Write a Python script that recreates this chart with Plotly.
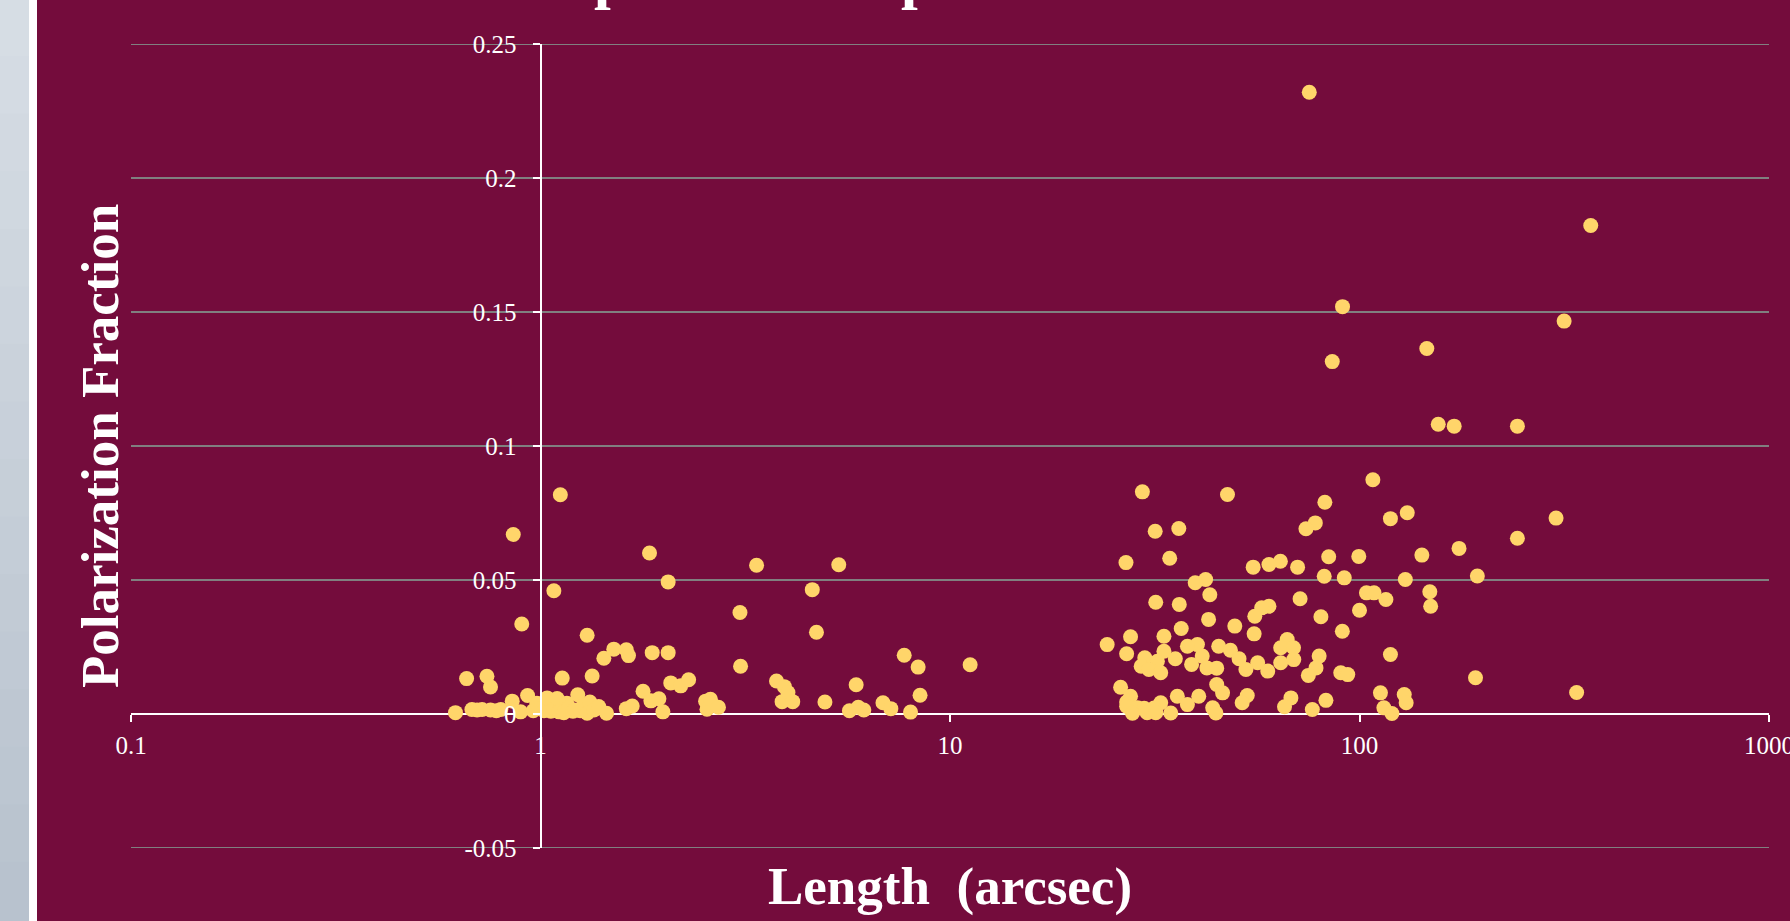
import plotly.graph_objects as go

# ---------------- data ----------------
short_length = [0.62, 0.66, 0.68, 0.70, 0.72, 0.74, 0.755, 0.755, 0.78, 0.80,
                0.853, 0.858, 0.894, 0.90, 0.93, 0.96, 0.98, 1.00, 1.02, 1.038,
                1.06, 1.078, 1.08, 1.098, 1.11, 1.118, 1.13, 1.14, 1.16, 1.17,
                1.20, 1.21, 1.233, 1.25, 1.27, 1.30, 1.30, 1.32, 1.337, 1.35,
                1.387, 1.428, 1.45, 1.51, 1.62, 1.62, 1.64, 1.675, 1.78, 1.846,
                1.86, 1.874, 1.946, 1.99, 2.05, 2.05, 2.08, 2.20, 2.30, 2.53,
                2.55, 2.60, 2.72, 3.07, 3.08, 3.37, 3.77, 3.89, 3.94, 4.02,
                4.13, 4.61, 4.72, 4.95, 5.35, 5.68, 5.90, 5.97, 6.16, 6.86,
                7.17, 7.73, 8.01, 8.36, 8.45, 11.2]
short_pol = [0.0005, 0.0132, 0.0017, 0.0015, 0.0017, 0.0141, 0.0101, 0.0015, 0.0012, 0.0017,
             0.0048, 0.0670, 0.0008, 0.0336, 0.0069, 0.0012, 0.0040, 0.0020, 0.0012, 0.0060,
             0.0010, 0.0460, 0.0020, 0.0058, 0.0008, 0.0818, 0.0134, 0.0005, 0.0040, 0.0022,
             0.0010, 0.0015, 0.0072, 0.0012, 0.0030, 0.0294, 0.0003, 0.0045, 0.0142, 0.0015,
             0.0028, 0.0208, 0.0003, 0.0242, 0.0240, 0.0020, 0.0218, 0.0030, 0.0085, 0.0601,
             0.0049, 0.0229, 0.0057, 0.0008, 0.0493, 0.0229, 0.0116, 0.0105, 0.0128, 0.0048,
             0.0018, 0.0055, 0.0025, 0.0379, 0.0178, 0.0555, 0.0123, 0.0046, 0.0102, 0.0080,
             0.0046, 0.0464, 0.0305, 0.0045, 0.0557, 0.0012, 0.0109, 0.0025, 0.0015, 0.0042,
             0.0020, 0.0219, 0.0007, 0.0175, 0.0070, 0.0184]

long_length = [75.4, 367, 90.9, 316, 146, 85.8, 155.7, 170.3, 243, 107.8,
               29.5, 47.6, 82.3, 130.8, 302, 119, 78, 74, 36.2, 31.7,
               243, 175, 142, 84.1, 99.6, 34.4, 26.9, 64.1, 60.1, 55,
               70.6, 194, 82, 91.8, 129.4, 42.1, 39.7, 104, 108.5, 148.5,
               43.1, 71.6, 116, 31.8, 36.3, 149.2, 60.1, 57.7, 100, 55.5,
               80.5, 42.8, 49.6, 36.7, 90.8, 55.3, 33.3, 27.6, 66.6, 24.2,
               40.2, 38.0, 45.3, 64.2, 69.0, 48.4, 33.3, 27.0, 119, 41.3,
               79.7, 29.9, 35.5, 50.8, 69.1, 32.1, 56.4, 64.2, 38.9, 29.3,
               42.4, 44.8, 78.3, 30.6, 52.8, 59.7, 32.7, 90, 93.6, 75.0,
               192, 44.8, 26.1, 46.3, 112.5, 339, 128.6, 27.6, 35.9, 40.5,
               53.2, 68.0, 82.8, 27.0, 32.7, 51.7, 130, 38.0, 27.0, 65.6,
               28.7, 43.8, 114.7, 29.8, 31.5, 76.7, 34.6, 44.6, 120, 27.9,
               30.3, 31.8]
long_pol = [0.232, 0.1823, 0.152, 0.1466, 0.1364, 0.1315, 0.1081, 0.1074, 0.1074, 0.0874,
            0.0829, 0.0819, 0.079, 0.0751, 0.0731, 0.0729, 0.0713, 0.0691, 0.0692, 0.0682,
            0.0656, 0.0618, 0.0593, 0.0587, 0.0588, 0.0581, 0.0565, 0.057, 0.0558, 0.0548,
            0.0548, 0.0515, 0.0514, 0.0508, 0.0502, 0.0502, 0.049, 0.0452, 0.0452, 0.0456,
            0.0445, 0.043, 0.0427, 0.0417, 0.0409, 0.0402, 0.0402, 0.0396, 0.0387, 0.0365,
            0.0363, 0.0353, 0.0328, 0.0319, 0.0309, 0.0299, 0.029, 0.0288, 0.0278, 0.0259,
            0.0259, 0.0253, 0.0253, 0.0247, 0.0247, 0.0238, 0.0234, 0.0225, 0.0222, 0.0216,
            0.0216, 0.021, 0.0206, 0.0206, 0.0203, 0.0197, 0.0191, 0.0191, 0.0185, 0.0178,
            0.0172, 0.0171, 0.0172, 0.0166, 0.0166, 0.016, 0.0154, 0.0154, 0.0147, 0.0144,
            0.0135, 0.011, 0.010, 0.0079, 0.0079, 0.008, 0.0073, 0.0066, 0.0066, 0.0066,
            0.0069, 0.006, 0.0051, 0.0045, 0.0042, 0.0042, 0.0042, 0.0035, 0.0029, 0.0027,
            0.0023, 0.0023, 0.0023, 0.0021, 0.0022, 0.0017, 0.0004, 0.0004, 0.0002, 0.0003,
            0.0005, 0.0005]

x_tick_vals = [0.1, 1, 10, 100, 1000]
x_tick_text = ["0.1", "1", "10", "100", "1000"]
y_tick_vals = [-0.05, 0, 0.05, 0.1, 0.15, 0.2, 0.25]
y_tick_text = ["-0.05", "0", "0.05", "0.1", "0.15", "0.2", "0.25"]
y_edge_grid = [-0.05, 0.25]

x_title = "Length  (arcsec)"
y_title = "Polarization Fraction"

# ---------------- styling ----------------
BG = "#740C3C"
DOT = "#FFD56A"
GRID = "#808080"
SERIF = "Liberation Serif, Times New Roman, serif"
W, H = 1790, 921
ML, MR, MT, MB = 131, 21, 44, 73
PW = W - ML - MR
PH = H - MT - MB

fig = go.Figure()
for xs, ys in [(short_length, short_pol), (long_length, long_pol)]:
    fig.add_trace(go.Scatter(
        x=xs, y=ys, mode="markers",
        marker=dict(color=DOT, size=15, line=dict(width=0)),
        showlegend=False, hoverinfo="x+y",
    ))

# gridlines at the range edges (plotly omits them)
for gv in y_edge_grid:
    fig.add_shape(type="line", xref="paper", yref="y", x0=0, x1=1, y0=gv, y1=gv,
                  line=dict(color=GRID, width=2), layer="below")

# left decorative strip (light gradient + white band)
top_c = (215, 222, 229)
bot_c = (183, 193, 205)
nb = 16
for i in range(nb):
    t = (i + 0.5) / nb
    c = tuple(int(round(top_c[k] + (bot_c[k] - top_c[k]) * t)) for k in range(3))
    y1 = 1 + MT / PH - i * (H / PH) / nb
    y0 = 1 + MT / PH - (i + 1) * (H / PH) / nb
    fig.add_shape(type="rect", xref="paper", yref="paper", xsizemode="pixel", xanchor=0,
                  x0=-ML, x1=-ML + 29, y0=y0 - 0.002, y1=y1 + 0.002,
                  fillcolor="rgb(%d,%d,%d)" % c, line=dict(width=0), layer="below")
fig.add_shape(type="rect", xref="paper", yref="paper", xsizemode="pixel", xanchor=0,
              x0=-ML + 29, x1=-ML + 37, y0=-1, y1=2,
              fillcolor="#FFFFFF", line=dict(width=0), layer="below")

# axis titles
fig.add_annotation(text=x_title, xref="paper", yref="paper", x=0.5,
                   y=-(886 - (MT + PH)) / PH, xanchor="center", yanchor="middle",
                   showarrow=False, font=dict(family=SERIF, size=53, color="white", weight="bold"))
fig.add_annotation(text=y_title, xref="paper", yref="paper", x=(100 - ML) / PW,
                   y=0.5, xanchor="center", yanchor="middle", textangle=-90,
                   showarrow=False, font=dict(family=SERIF, size=53, color="white", weight="bold"))

# fragments of the slide title cut off at the top edge
for px in (610, 917):
    fig.add_annotation(text="p", xref="paper", yref="paper", x=(px - ML) / PW,
                       y=1 + (MT - 11) / PH, xanchor="center", yanchor="bottom",
                       showarrow=False, borderpad=0,
                       font=dict(family=SERIF, size=60, color="white", weight="bold"))

fig.update_layout(
    width=W, height=H,
    margin=dict(l=ML, r=MR, t=MT, b=MB, pad=0),
    paper_bgcolor=BG, plot_bgcolor=BG,
    xaxis=dict(type="log", range=[-1, 3], domain=[0, 1], anchor="free", position=1 / 6,
               showgrid=False, showline=False, zeroline=False,
               ticks="outside", ticklen=7, tickwidth=2, tickcolor="white",
               tickvals=x_tick_vals, ticktext=x_tick_text, ticklabelstandoff=2,
               ticklabeloverflow="allow",
               tickfont=dict(family=SERIF, size=25, color="white"), automargin=False),
    yaxis=dict(range=[-0.05, 0.25], domain=[0, 1], anchor="free", position=0.25,
               showgrid=True, gridcolor=GRID, gridwidth=2,
               zeroline=True, zerolinecolor="white", zerolinewidth=2,
               showline=True, linecolor="white", linewidth=2,
               ticks="outside", ticklen=7, tickwidth=2, tickcolor="white",
               tickvals=y_tick_vals, ticktext=y_tick_text, ticklabelstandoff=11,
               ticklabeloverflow="allow",
               tickfont=dict(family=SERIF, size=25, color="white"), automargin=False),
)

fig.write_html("out.html", config={"displayModeBar": False},
               post_script="document.body.style.margin='0';document.body.style.overflow='hidden';")
